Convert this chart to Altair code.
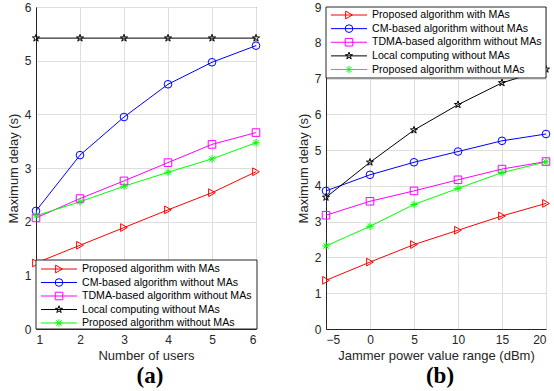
import math
import altair as alt
import pandas as pd

series = ["Proposed algorithm with MAs", "CM-based algorithm without MAs",
          "TDMA-based algorithm without MAs", "Local computing without MAs",
          "Proposed algorithm without MAs"]
colors = ["#ff0000", "#0000ff", "#ff00ff", "#000000", "#00ff00"]

# Panel (a): number of users
users = [1, 2, 3, 4, 5, 6]
a_prop_ma = [1.23, 1.56, 1.89, 2.22, 2.54, 2.93]
a_cm = [2.20, 3.24, 3.95, 4.56, 4.97, 5.28]
a_tdma = [2.07, 2.43, 2.76, 3.10, 3.44, 3.66]
a_local = [5.42, 5.42, 5.42, 5.42, 5.42, 5.42]
a_prop_noma = [2.11, 2.37, 2.66, 2.92, 3.17, 3.47]

# Panel (b): jammer power range
jammer = [-5, 0, 5, 10, 15, 20]
b_prop_ma = [1.36, 1.87, 2.36, 2.76, 3.16, 3.51]
b_cm = [3.86, 4.31, 4.66, 4.96, 5.26, 5.45]
b_tdma = [3.18, 3.57, 3.86, 4.17, 4.47, 4.68]
b_local = [3.68, 4.66, 5.56, 6.27, 6.88, 7.26]
b_prop_noma = [2.32, 2.87, 3.48, 3.93, 4.37, 4.67]

# marker shapes (MATLAB style)
def star_path():
    pts = []
    for i in range(10):
        ang = math.radians(-90 + 36 * i)
        r = 1.0 if i % 2 == 0 else 0.382
        pts.append(f"{r*math.cos(ang):.3f},{r*math.sin(ang):.3f}")
    return "M" + "L".join(pts) + "Z"

asterisk = "M-1,0L1,0M0,-1L0,1M-0.72,-0.72L0.72,0.72M-0.72,0.72L0.72,-0.72"
shapes = ["triangle-right", "circle", "square", star_path(), asterisk]
sizes = [60, 55, 42, 95, 50]

FONT = "Liberation Sans"


def panel(xvals, ys, xdomain, xticks, ydomain, yticks, xtitle, caption,
          legend_rows, box):
    rows = []
    for s, yv in zip(series, ys):
        for xv, v in zip(xvals, yv):
            rows.append({"x": xv, "y": v, "series": s})
    df = pd.DataFrame(rows)

    color = alt.Color("series:N", scale=alt.Scale(domain=series, range=colors), legend=None)
    shape = alt.Shape("series:N", scale=alt.Scale(domain=series, range=shapes), legend=None)
    size = alt.Size("series:N", scale=alt.Scale(domain=series, range=sizes), legend=None)

    X = alt.X("x:Q", scale=alt.Scale(domain=xdomain, nice=False, zero=False),
              axis=alt.Axis(values=xticks, title=xtitle, format="d",
                            titleFontWeight="normal"))
    Y = alt.Y("y:Q", scale=alt.Scale(domain=ydomain, nice=False),
              axis=alt.Axis(values=yticks, title="Maximum delay (s)", format="d",
                            titleFontWeight="normal"))

    base = alt.Chart(df)
    lines = base.mark_line(strokeWidth=1).encode(x=X, y=Y, color=color, detail="series:N")
    points = base.mark_point(filled=False, strokeWidth=1, opacity=1).encode(
        x=X, y=Y, color=color, shape=shape, size=size)
    data_layer = alt.layer(lines, points)

    ldf = pd.DataFrame({"series": series, "row": list(range(5))})
    LY = alt.Y("row:Q", scale=alt.Scale(domain=[0, 4], range=legend_rows), axis=None)
    bx0, bx1, by0, by1 = box
    boxl = alt.Chart(pd.DataFrame({"k": [0]})).mark_rect(
        fill="white", stroke="#262626", strokeWidth=1).encode(
        x=alt.value(bx0), x2=alt.value(bx1), y=alt.value(by0), y2=alt.value(by1))
    lrule = alt.Chart(ldf).mark_rule(strokeWidth=1).encode(
        x=alt.value(bx0 + 5), x2=alt.value(bx0 + 41), y=LY, color=color)
    lpt = alt.Chart(ldf).mark_point(filled=False, strokeWidth=1, opacity=1).encode(
        x=alt.value(bx0 + 23), y=LY, color=color, shape=shape, size=size)
    ltxt = alt.Chart(ldf).mark_text(align="left", baseline="middle", font=FONT,
                                    fontSize=10.6, color="black").encode(
        x=alt.value(bx0 + 46), y=LY, text="series:N")
    legend_layer = alt.layer(boxl, lrule, lpt, ltxt)

    return alt.layer(data_layer, legend_layer).resolve_scale(
        y="independent").properties(
        width=220, height=322,
        title=alt.TitleParams(caption, orient="bottom", font="Liberation Serif",
                              fontSize=23, fontWeight="bold", color="black",
                              offset=3, frame="group", dx=4))


pa = panel(users, [a_prop_ma, a_cm, a_tdma, a_local, a_prop_noma],
           [1, 6], users, [0, 6], [0, 1, 2, 3, 4, 5, 6], "Number of users", "(a)",
           [262, 316], (0, 221, 253, 322))
pb = panel(jammer, [b_prop_ma, b_cm, b_tdma, b_local, b_prop_noma],
           [-5, 20], jammer, [0, 9], list(range(10)),
           "Jammer power value range (dBm)", "(b)",
           [8, 62.5], (0, 220, 0, 71))

chart = alt.hconcat(pa, pb, spacing=33).properties(
    padding={"left": 6, "top": 0, "right": 0, "bottom": 0},
    background="white"
).configure_view(stroke="#262626", strokeWidth=1).configure_axis(
    labelFont=FONT, labelFontSize=12, labelColor="#262626",
    titleFont=FONT, titleFontSize=13, titleFontWeight="normal", titleColor="#262626",
    gridColor="#dedede", gridWidth=1, domainColor="#262626", ticks=False,
    labelPadding=5, titlePadding=4
)

chart.save("out.html", embed_options={"renderer": "svg", "actions": False})
